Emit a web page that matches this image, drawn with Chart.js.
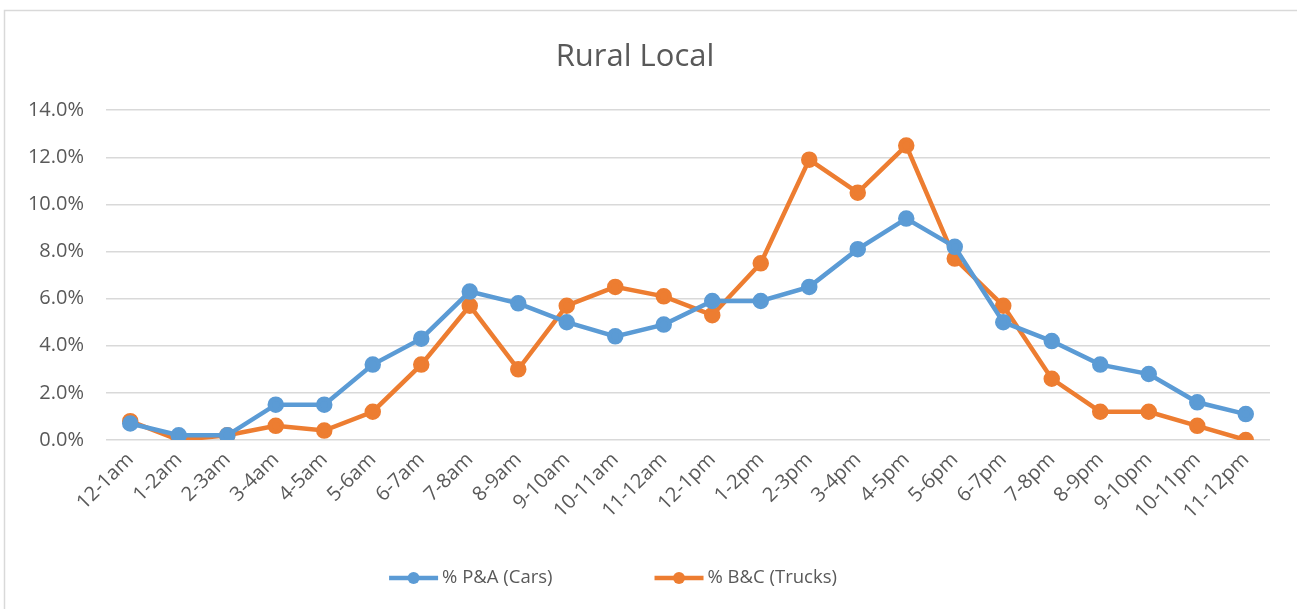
<!DOCTYPE html>
<html lang="en">
<head>
    <meta charset="UTF-8">
    <title>Rural Local</title>
    <script src="https://cdn.jsdelivr.net/npm/chart.js"></script>
    <style>
        html, body { margin: 0; padding: 0; background: #fff; }
        #wrap { width: 1297px; height: 609px; position: relative; }
    </style>
</head>
<body>
    <div id="wrap"><canvas id="ruralChart"></canvas></div>

    <script>
        const hours = ['12-1am', '1-2am', '2-3am', '3-4am', '4-5am', '5-6am', '6-7am', '7-8am',
            '8-9am', '9-10am', '10-11am', '11-12am', '12-1pm', '1-2pm', '2-3pm', '3-4pm',
            '4-5pm', '5-6pm', '6-7pm', '7-8pm', '8-9pm', '9-10pm', '10-11pm', '11-12pm'];
        const carsPct = [0.7, 0.2, 0.2, 1.5, 1.5, 3.2, 4.3, 6.3, 5.8, 5.0, 4.4, 4.9,
            5.9, 5.9, 6.5, 8.1, 9.4, 8.2, 5.0, 4.2, 3.2, 2.8, 1.6, 1.1];
        const trucksPct = [0.8, 0.0, 0.2, 0.6, 0.4, 1.2, 3.2, 5.7, 3.0, 5.7, 6.5, 6.1,
            5.3, 7.5, 11.9, 10.5, 12.5, 7.7, 5.7, 2.6, 1.2, 1.2, 0.6, 0.0];

        const BLUE = '#5B9BD5';
        const ORANGE = '#ED7D31';
        const TEXT = '#595959';
        const GRID = '#d9d9d9';
        const FONT = "'Open Sans', sans-serif";
        const TICK_SIZE = 20;

        // grey frame around the chart, open on the right/bottom like the crop
        const frame = {
            id: 'frame',
            beforeDraw(chart) {
                let ctx = chart.ctx;
                ctx.save();
                ctx.strokeStyle = GRID;
                ctx.lineWidth = 1.5;
                ctx.strokeRect(4.5, 10.5, chart.width + 10, chart.height + 10);
                ctx.restore();
            }
        };

        // legend with line + marker symbols (Excel style)
        const lineLegend = {
            id: 'lineLegend',
            afterDraw(chart) {
                let ctx = chart.ctx;
                let sets = chart.data.datasets;
                let symW = 49, gapText = 4, gapItem = 102;
                ctx.save();
                ctx.font = `18.5px ${FONT}`;
                ctx.textBaseline = 'middle';
                let widths = sets.map(ds => symW + gapText + ctx.measureText(ds.label).width);
                let total = widths.reduce((a, b) => a + b, 0) + gapItem * (sets.length - 1);
                let x = 613 - total / 2;
                let y = 578;
                sets.forEach((ds, i) => {
                    ctx.strokeStyle = ds.borderColor;
                    ctx.lineWidth = 4.5;
                    ctx.beginPath(); ctx.moveTo(x, y); ctx.lineTo(x + symW, y); ctx.stroke();
                    ctx.fillStyle = ds.borderColor;
                    ctx.beginPath(); ctx.arc(x + symW / 2, y, 6, 0, Math.PI * 2); ctx.fill();
                    ctx.fillStyle = TEXT;
                    ctx.fillText(ds.label, x + symW + gapText, y);
                    x += widths[i] + gapItem;
                });
                ctx.restore();
            }
        };

        let ctx = document.getElementById('ruralChart').getContext('2d');
        new Chart(ctx, {
            type: 'line',
            data: {
                labels: hours,
                datasets: [{
                    label: '% P&A (Cars)',
                    data: carsPct,
                    borderColor: BLUE,
                    backgroundColor: BLUE,
                    borderWidth: 4.5,
                    pointRadius: 6,
                    pointHoverRadius: 6,
                    tension: 0
                }, {
                    label: '% B&C (Trucks)',
                    data: trucksPct,
                    borderColor: ORANGE,
                    backgroundColor: ORANGE,
                    borderWidth: 4.5,
                    pointRadius: 6,
                    pointHoverRadius: 6,
                    tension: 0
                }]
            },
            options: {
                responsive: true,
                maintainAspectRatio: false,
                animation: false,
                layout: { padding: { left: 0, right: 27, top: 0, bottom: 48 } },
                plugins: {
                    title: {
                        display: true,
                        text: 'Rural Local',
                        color: TEXT,
                        font: { family: FONT, size: 31, weight: 'normal' },
                        padding: { top: 39, bottom: 34 }
                    },
                    legend: { display: false },
                    tooltip: { enabled: false }
                },
                scales: {
                    x: {
                        offset: true,
                        grid: { display: false, drawTicks: false },
                        border: { display: false },
                        ticks: {
                            color: TEXT,
                            font: { family: FONT, size: TICK_SIZE },
                            minRotation: 45,
                            maxRotation: 45,
                            padding: 8,
                            autoSkip: false
                        },
                        afterFit(scale) { scale.height = 121; }
                    },
                    y: {
                        min: 0,
                        max: 14,
                        grid: { color: GRID, lineWidth: 1.5, drawTicks: false },
                        border: { display: false },
                        ticks: {
                            stepSize: 2,
                            color: TEXT,
                            font: { family: FONT, size: TICK_SIZE },
                            padding: 22,
                            callback: v => v.toFixed(1) + '%'
                        },
                        afterFit(scale) { scale.width = 106; }
                    }
                }
            },
            plugins: [frame, lineLegend]
        });
    </script>
</body>
</html>
